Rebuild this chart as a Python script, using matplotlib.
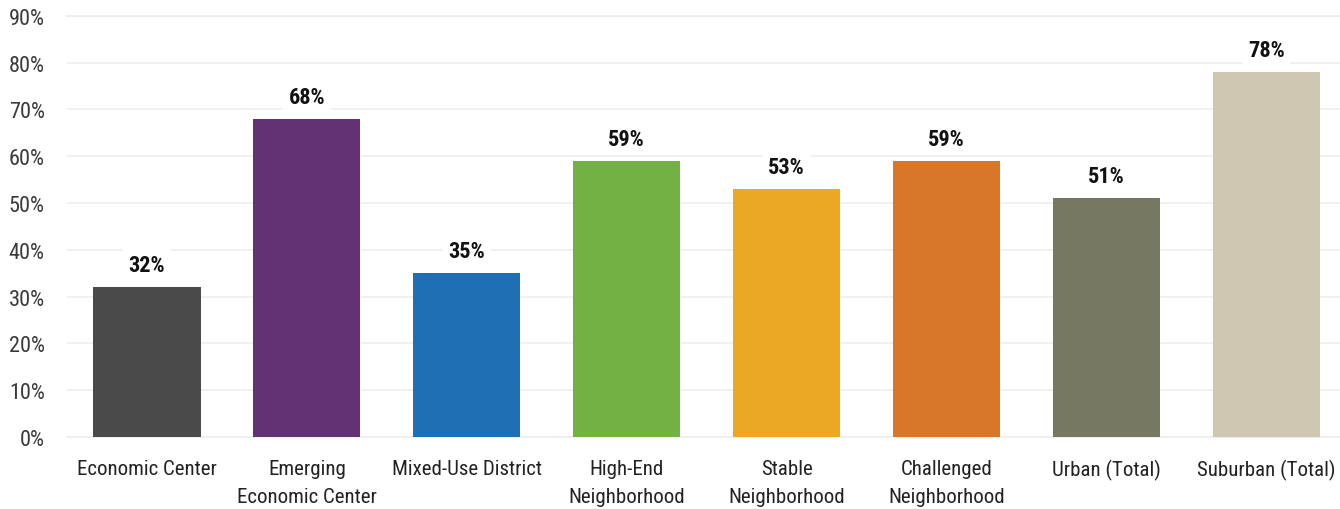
import matplotlib
matplotlib.use("Agg")
import matplotlib.pyplot as plt
from matplotlib import font_manager

# data
categories = ["Economic Center", "Emerging\nEconomic Center", "Mixed-Use District",
              "High-End\nNeighborhood", "Stable\nNeighborhood", "Challenged\nNeighborhood",
              "Urban (Total)", "Suburban (Total)"]
values = [32, 68, 35, 59, 53, 59, 51, 78]
colors = ["#4a4a4a", "#633274", "#1f6fb5", "#72b244", "#eaa823", "#d8772a", "#777862", "#d0c7b3"]
yticks = [0, 10, 20, 30, 40, 50, 60, 70, 80, 90]

installed = {f.name for f in font_manager.fontManager.ttflist}
fam = [f for f in ["Liberation Sans Narrow", "Roboto Condensed", "DejaVu Sans Condensed"] if f in installed]
plt.rcParams['font.family'] = fam + ["DejaVu Sans"]

fig = plt.figure(figsize=(13.4, 5.1), dpi=100)
ax = fig.add_axes([0.05, 0.141, 0.95, 0.826])

x = range(len(categories))
ax.bar(x, values, width=0.67, color=colors, zorder=2)

for i, v in enumerate(values):
    ax.annotate(f"{v}%", (i, v), xytext=(0, 16), textcoords="offset points",
                ha="center", va="center", fontsize=16, fontweight="bold", color="#111111",
                bbox=dict(facecolor="white", edgecolor="none", pad=4), zorder=3)

ax.set_xlim(-0.5, 7.46)
ax.set_ylim(0, 90)
ax.set_yticks(yticks)
ax.set_yticklabels([f"{t}%" for t in yticks], fontsize=16, color="#3a3a3a")
ax.set_xticks(list(x))
ax.set_xticklabels(categories, fontsize=15, color="#222222", linespacing=1.6)
ax.yaxis.grid(True, color="#ededed", linewidth=1.2, zorder=0)
ax.set_axisbelow(True)
ax.tick_params(axis="both", length=0)
ax.tick_params(axis="x", pad=16)
ax.tick_params(axis="y", pad=16)
for s in ax.spines.values():
    s.set_visible(False)
ax.axhline(0, color="#ededed", linewidth=1.2, zorder=1, clip_on=False)
ax.axhline(90, color="#ededed", linewidth=1.2, zorder=1, clip_on=False)

fig.savefig("out.png", dpi=100)
